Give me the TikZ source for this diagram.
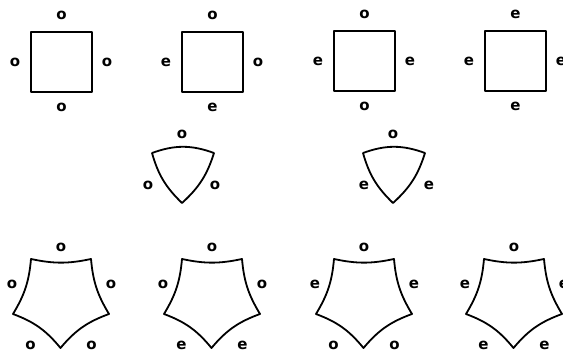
\documentclass[tikz,border=0pt]{standalone}
\usepackage{fontspec}
\setmainfont{DejaVu Sans}
\begin{document}
\begin{tikzpicture}[x=1pt,y=-1pt,
  shp/.style={line width=1.8pt,line join=round},
  lab/.style={font=\fontsize{15}{15}\selectfont\bfseries,inner sep=0pt,anchor=center}]
\useasboundingbox (0,0) rectangle (563,350);
\clip (0,0) rectangle (563,350);
% squares
\foreach \dx/\dy/\t/\l/\r/\b [count=\i] in {0/0/o/o/o/o, 151/0/o/e/o/e, 303/-1/o/e/e/o, 454/-1/e/e/e/e}{
  \begin{scope}[shift={(\dx,\dy)}]
    \draw[shp] (31,32) rectangle (92,92);
    \node[lab] (sq\i t) at (61.5,15) {\t};
    \node[lab] (sq\i l) at (15,62) {\l};
    \node[lab] (sq\i r) at (107,62) {\r};
    \node[lab] (sq\i b) at (61.5,107.5) {\b};
  \end{scope}
}
% triangles
\foreach \dx/\l/\r/\lx/\rx [count=\i] in {0/o/o/148/215, 211/e/e/153/218}{
  \begin{scope}[shift={(\dx,0)}]
    \coordinate (tr\i a) at (152,153);
    \coordinate (tr\i b) at (214,153);
    \coordinate (tr\i c) at (182,203);
    \draw[shp] (tr\i a) to[bend left=20] (tr\i b) to[bend left=15] (tr\i c) to[bend left=15] cycle;
    \node[lab] (tr\i t) at (182,134) {o};
    \node[lab] (tr\i l) at (\lx,185) {\l};
    \node[lab] (tr\i r) at (\rx,185) {\r};
  \end{scope}
}
% pentagons
\foreach \dx/\l/\r/\ll/\lr [count=\i] in {0/o/o/o/o, 151/o/o/e/e, 303/e/e/o/o, 453/e/e/e/e}{
  \begin{scope}[shift={(\dx,0)}]
    \coordinate (pe\i a) at (31,259);
    \coordinate (pe\i b) at (91,259);
    \coordinate (pe\i c) at (109,314);
    \coordinate (pe\i d) at (60.5,348);
    \coordinate (pe\i e) at (13,314);
    \draw[shp] (pe\i a) to[bend right=12] (pe\i b) to[bend right=13] (pe\i c)
      to[bend right=15] (pe\i d) to[bend right=15] (pe\i e) to[bend right=13] cycle;
    \node[lab] (pe\i t) at (61,247) {o};
    \node[lab] (pe\i l) at (12,284) {\l};
    \node[lab] (pe\i r) at (111,284) {\r};
    \node[lab] (pe\i x) at (30.5,345) {\ll};
    \node[lab] (pe\i y) at (91.5,345) {\lr};
  \end{scope}
}
\end{tikzpicture}
\end{document}
